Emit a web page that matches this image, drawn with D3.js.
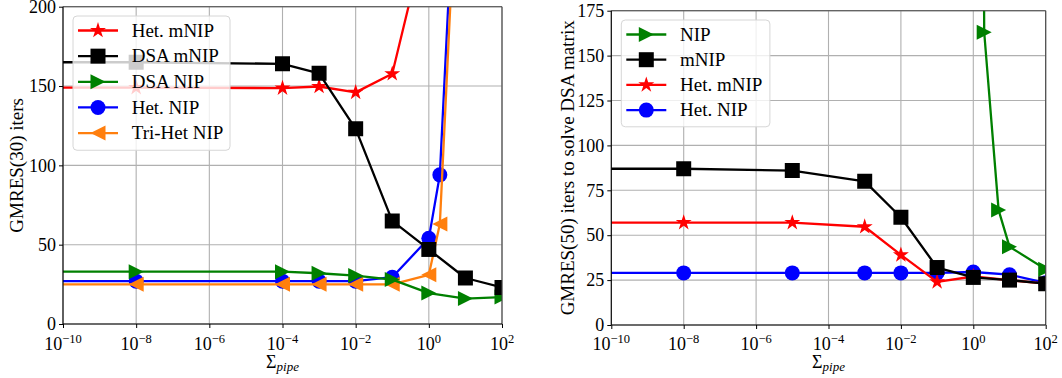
<!DOCTYPE html>
<html>
<head>
<meta charset="utf-8">
<script src="https://cdn.jsdelivr.net/npm/d3@7"></script>
<style>
  body { margin: 0; background: #fff; }
  text { font-family: "Liberation Serif", "DejaVu Serif", serif; fill: #000; }
</style>
</head>
<body>
<div id="chart"></div>
<script>
// left panel: GMRES(30) iters
var dsaX = [1e-12, 1e-8, 1e-4, 1e-3, 1e-2, 1e-1, 1, 10, 100];
var hetMNIPX = [1e-12, 1e-8, 1e-4, 1e-3, 1e-2, 1e-1, 1];
var nipX = [1e-12, 1e-8, 1e-4, 1e-3, 1e-2, 1e-1, 1, 2, 10];
var hetMNIP = [149, 149, 148.7, 149.7, 146, 157.7, 253];
var dsaMNIP = [165, 165, 164, 158, 123, 65, 47, 29, 23];
var dsaNIP = [33, 33, 33, 32, 30.5, 28, 19.5, 16, 17];
var hetNIP = [27, 27, 27, 27, 27, 29.5, 54, 94, 420];
var triHetNIP = [25, 25, 25, 25, 25, 25, 31, 63, 400];

// right panel: GMRES(50) iters to solve DSA matrix
var sweepX = [1e-12, 1e-8, 1e-5, 1e-3, 1e-2, 1e-1, 1, 10, 100];
var plainNIPX = [1, 2, 5, 10, 100];
var plainNIP = [1500, 163, 64, 43.6, 31];
var plainMNIP = [87, 87, 86, 80, 60, 32, 26.5, 25, 23];
var hetMNIP2 = [57, 57, 57, 54.7, 39, 24, 27, 25, 23];
var hetNIP2 = [29, 29, 29, 29, 29, 29, 29.5, 28, 23.5];

var xTicks = [1e-10, 1e-8, 1e-6, 1e-4, 1e-2, 1e0, 1e2];
var leftYTicks = [0, 50, 100, 150, 200];
var rightYTicks = [0, 25, 50, 75, 100, 125, 150, 175];

var svgWidth = 1062;
var svgHeight = 378;

var svg = d3.select("#chart")
  .append("svg")
  .attr("width", svgWidth)
  .attr("height", svgHeight);

var zip = (xs, ys) => xs.map((x, i) => ({x: x, y: ys[i]}));

// marker shapes, s = full marker size in px
function markerPath(type, s) {
  var h = s / 2;
  if (type === "square") return `M${-h},${-h}h${s}v${s}h${-s}Z`;
  if (type === "circle") return d3.symbol(d3.symbolCircle, Math.PI * h * h)();
  if (type === "right") return `M${h},0L${-h},${h}L${-h},${-h}Z`;
  if (type === "left") return `M${-h},0L${h},${-h}L${h},${h}Z`;
  // 5 point star
  var pts = [];
  for (var k = 0; k < 10; k++) {
    var r = k % 2 === 0 ? h * 1.05 : h * 1.05 * 0.381966;
    var a = -Math.PI / 2 + k * Math.PI / 5;
    pts.push([r * Math.cos(a), r * Math.sin(a)]);
  }
  return "M" + pts.map(p => p.join(",")).join("L") + "Z";
}

function drawPanel(cfg) {
  var x = d3.scaleLog().domain([1e-10, 1e2]).range([cfg.left, cfg.right]);
  var y = d3.scaleLinear().domain(cfg.yDomain).range([cfg.bottom, cfg.top]);
  var g = svg.append("g");

  // grid
  g.selectAll(".vgrid").data(xTicks).enter().append("line")
    .attr("x1", d => x(d)).attr("x2", d => x(d))
    .attr("y1", cfg.top).attr("y2", cfg.bottom)
    .attr("stroke", "#b0b0b0").attr("stroke-width", 1.1);
  g.selectAll(".hgrid").data(cfg.yTicks).enter().append("line")
    .attr("x1", cfg.left).attr("x2", cfg.right)
    .attr("y1", d => y(d)).attr("y2", d => y(d))
    .attr("stroke", "#b0b0b0").attr("stroke-width", 1.1);

  var clipId = "clip" + cfg.id;
  svg.append("clipPath").attr("id", clipId)
    .append("rect")
    .attr("x", cfg.left).attr("y", cfg.top)
    .attr("width", cfg.right - cfg.left).attr("height", cfg.bottom - cfg.top);

  var plot = g.append("g").attr("clip-path", `url(#${clipId})`);
  var line = d3.line().x(d => x(d.x)).y(d => y(d.y));

  cfg.series.forEach(function(s) {
    var pts = zip(s.x, s.y);
    plot.append("path")
      .datum(pts)
      .attr("d", line)
      .attr("fill", "none")
      .attr("stroke", s.color)
      .attr("stroke-width", 2.3)
      .attr("stroke-linejoin", "round");
    plot.selectAll(null).data(pts).enter().append("path")
      .attr("transform", d => `translate(${x(d.x)},${y(d.y)})`)
      .attr("d", markerPath(s.marker, s.marker === "star" ? 16 : 15))
      .attr("fill", s.color);
  });

  // spines
  g.append("line").attr("x1", cfg.left).attr("x2", cfg.right).attr("y1", cfg.top).attr("y2", cfg.top)
    .attr("stroke", "#444").attr("stroke-width", 1.1);
  g.append("line").attr("x1", cfg.right).attr("x2", cfg.right).attr("y1", cfg.top).attr("y2", cfg.bottom)
    .attr("stroke", "#444").attr("stroke-width", 1.1);
  g.append("line").attr("x1", cfg.left).attr("x2", cfg.right).attr("y1", cfg.bottom).attr("y2", cfg.bottom)
    .attr("stroke", "#000").attr("stroke-width", 1.1);
  g.append("line").attr("x1", cfg.left).attr("x2", cfg.left).attr("y1", cfg.top).attr("y2", cfg.bottom)
    .attr("stroke", "#000").attr("stroke-width", 1.1);

  // axes
  var bottomAxis = d3.axisBottom(x).tickValues(xTicks).tickSize(4).tickFormat("");
  var leftAxis = d3.axisLeft(y).tickValues(cfg.yTicks).tickSize(4).tickPadding(3);

  var xa = g.append("g").attr("transform", `translate(0, ${cfg.bottom})`).call(bottomAxis);
  var ya = g.append("g").attr("transform", `translate(${cfg.left}, 0)`).call(leftAxis);
  xa.select(".domain").remove();
  ya.select(".domain").remove();
  ya.selectAll("text").attr("font-size", 18).attr("font-family", "Liberation Serif").attr("fill", "#000");

  xTicks.forEach(function(t) {
    var p = Math.round(Math.log10(t));
    var lbl = g.append("text")
      .attr("x", x(t))
      .attr("y", 350)
      .attr("text-anchor", "middle")
      .attr("font-size", 18);
    lbl.append("tspan").text("10");
    lbl.append("tspan")
      .attr("font-size", 12.5)
      .attr("dy", -7.5)
      .text(p < 0 ? "\u2212" + Math.abs(p) : p);
  });

  // x label
  var xl = g.append("text")
    .attr("x", (cfg.left + cfg.right) / 2)
    .attr("y", 368)
    .attr("text-anchor", "middle")
    .attr("font-size", 18);
  xl.append("tspan").text("\u03a3");
  xl.append("tspan").attr("font-style", "italic").attr("font-size", 13).attr("dy", 3).text("pipe");

  // y label
  g.append("text")
    .attr("transform", `translate(${cfg.yLabelX}, ${(cfg.top + cfg.bottom) / 2}) rotate(-90)`)
    .attr("text-anchor", "middle")
    .attr("font-size", 19)
    .attr("dy", "0.35em")
    .text(cfg.yLabel);

  // legend
  var lx = cfg.left + 10, ly = cfg.top + 9.3;
  var legend = g.append("g");
  legend.append("rect")
    .attr("x", lx).attr("y", ly)
    .attr("width", cfg.legendW).attr("height", cfg.series.length * cfg.legendStep + 6)
    .attr("rx", 4)
    .attr("fill", "#fff").attr("fill-opacity", 0.8)
    .attr("stroke", "#d6d6d6").attr("stroke-width", 1);
  cfg.legendOrder.forEach(function(idx, i) {
    var s = cfg.series[idx];
    var cy = ly + 14.5 + i * cfg.legendStep;
    legend.append("line")
      .attr("x1", lx + 5).attr("x2", lx + 45).attr("y1", cy).attr("y2", cy)
      .attr("stroke", s.color).attr("stroke-width", 2.3);
    legend.append("path")
      .attr("transform", `translate(${lx + 25},${cy})`)
      .attr("d", markerPath(s.marker, s.marker === "star" ? 16 : 15))
      .attr("fill", s.color);
    legend.append("text")
      .attr("x", lx + 58.7).attr("y", cy + 6.3)
      .attr("font-size", 19)
      .text(s.name);
  });
}

drawPanel({
  id: "L", left: 63, right: 502, top: 6.7, bottom: 324,
  yDomain: [0, 200], yTicks: leftYTicks,
  yLabel: "GMRES(30) iters", yLabelX: 16,
  legendW: 157, legendStep: 25.65,
  series: [
    {name: "Het. NIP", x: nipX, y: hetNIP, color: "#0000ff", marker: "circle"},
    {name: "Tri-Het NIP", x: nipX, y: triHetNIP, color: "#ff7f0e", marker: "left"},
    {name: "DSA NIP", x: dsaX, y: dsaNIP, color: "#008000", marker: "right"},
    {name: "Het. mNIP", x: hetMNIPX, y: hetMNIP, color: "#ff0000", marker: "star"},
    {name: "DSA mNIP", x: dsaX, y: dsaMNIP, color: "#000000", marker: "square"}
  ],
  legendOrder: [3, 4, 2, 0, 1]
});

drawPanel({
  id: "R", left: 611.3, right: 1045.7, top: 10.7, bottom: 325,
  yDomain: [0, 175], yTicks: rightYTicks,
  yLabel: "GMRES(50) iters to solve DSA matrix", yLabelX: 567,
  legendW: 148.6, legendStep: 25.2,
  series: [
    {name: "Het. NIP", x: sweepX, y: hetNIP2, color: "#0000ff", marker: "circle"},
    {name: "Het. mNIP", x: sweepX, y: hetMNIP2, color: "#ff0000", marker: "star"},
    {name: "mNIP", x: sweepX, y: plainMNIP, color: "#000000", marker: "square"},
    {name: "NIP", x: plainNIPX, y: plainNIP, color: "#008000", marker: "right"}
  ],
  legendOrder: [3, 2, 1, 0]
});
</script>
</body>
</html>
